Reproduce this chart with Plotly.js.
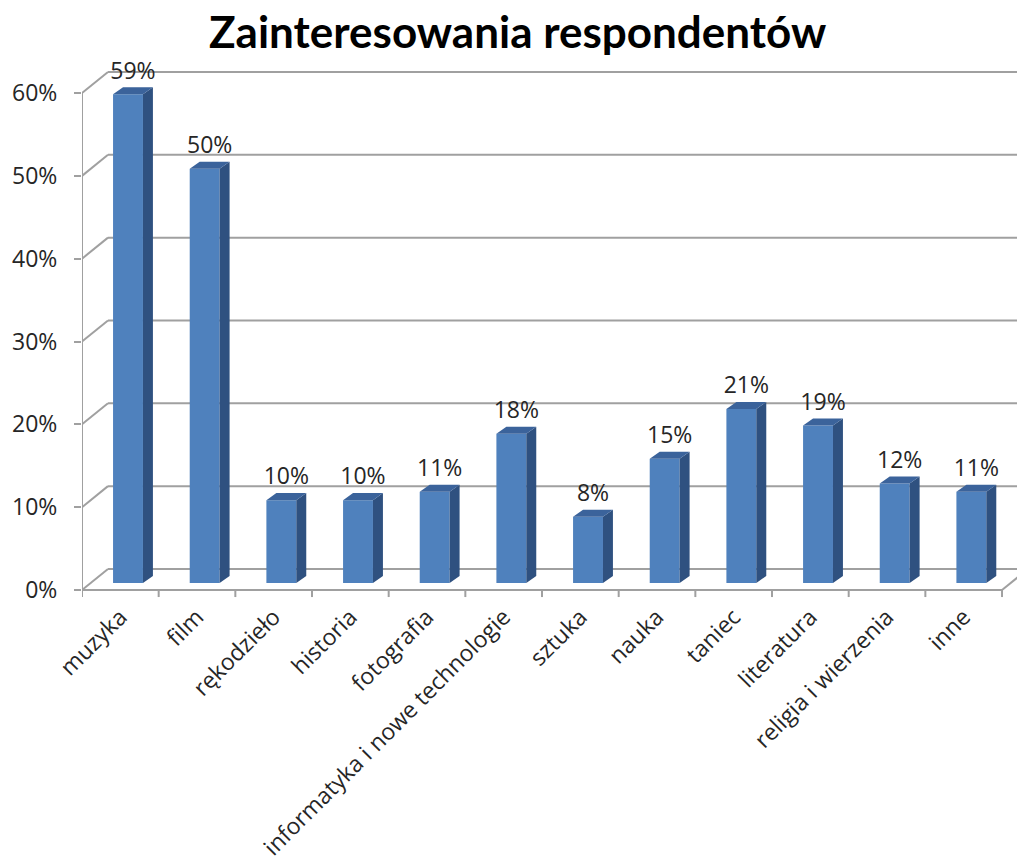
<!DOCTYPE html>
<html><head><meta charset="utf-8">
<script src="https://cdn.plot.ly/plotly-3.0.1.min.js"></script>
<style>html,body{margin:0;padding:0;background:#fff}</style>
</head><body>
<div id="chart" style="width:1017px;height:865px"></div>
<script>
// ---- data ----
const categories = ["muzyka","film","rękodzieło","historia","fotografia","informatyka i nowe technologie","sztuka","nauka","taniec","literatura","religia i wierzenia","inne"];
const values = [0.59,0.50,0.10,0.10,0.11,0.18,0.08,0.15,0.21,0.19,0.12,0.11];
const yTicks = [0,0.1,0.2,0.3,0.4,0.5,0.6];

// ---- geometry (styles / pseudo-3D offsets in axis units) ----
const wallDX = 0.339, wallDY = 0.0254;   // depth of floor / back wall
const barShift = 0.1, barBase = 0.0085;  // bar plane position
const barW = 0.39, barDX = 0.13, barDY = 0.0085; // bar width & depth
const idx = categories.map((_, i) => i);
const GRID = "#a0a0a0";

// front faces via bar trace
const frontFaces = {
  type: "bar", x: idx.map(i => i + barShift), y: values, base: barBase,
  width: barW, marker: {color: "#4f81bd", line: {width: 0}},
  hoverinfo: "skip", showlegend: false
};
// side faces
const sx = [], sy = [];
values.forEach((v, i) => {
  const r = i + barShift + barW / 2;
  sx.push(r, r + barDX, r + barDX, r, r, null);
  sy.push(barBase, barBase + barDY, barBase + v + barDY, barBase + v, barBase, null);
});
const sideFaces = {type: "scatter", mode: "lines", x: sx, y: sy, fill: "toself",
  fillcolor: "#2f5180", line: {width: 0, color: "#2f5180"}, hoverinfo: "skip", showlegend: false};
// top faces
const tx = [], ty = [];
values.forEach((v, i) => {
  const l = i + barShift - barW / 2, r = l + barW, t = barBase + v;
  tx.push(l, r, r + barDX, l + barDX, l, null);
  ty.push(t, t, t + barDY, t + barDY, t, null);
});
const topFaces = {type: "scatter", mode: "lines", x: tx, y: ty, fill: "toself",
  fillcolor: "#3b639b", line: {width: 0, color: "#3b639b"}, hoverinfo: "skip", showlegend: false};
// data labels
const dataLabels = {type: "scatter", mode: "text",
  x: idx.map(i => i + barShift + barDX / 2),
  y: values.map(v => v + barBase + barDY + 0.0035),
  text: values.map(v => Math.round(v * 100) + "%"),
  textposition: "top center", cliponaxis: false,
  textfont: {family: "Open Sans", size: 23, color: "#262626"},
  hoverinfo: "skip", showlegend: false};

// walls / floor as shapes below traces
const shapes = [];
const addLine = (x0, y0, x1, y1) => shapes.push({type: "line", xref: "x", yref: "y", layer: "below",
  x0, y0, x1, y1, line: {color: GRID, width: 2}});
yTicks.forEach(v => {
  addLine(-0.5, v, -0.5 + wallDX, v + wallDY);
  addLine(-0.5 + wallDX, v + wallDY, 13, v + wallDY);
});
addLine(-0.5, 0, -0.5, yTicks[yTicks.length - 1]);
addLine(-0.5, 0, categories.length - 0.5, 0);
addLine(categories.length - 0.5, 0, categories.length - 0.5 + wallDX, wallDY);
for (let b = 0; b <= categories.length; b++) addLine(b - 0.5, 0, b - 0.5, -0.0085);

const layout = {
  width: 1017, height: 865,
  margin: {l: 82, r: 0, t: 60, b: 267},
  paper_bgcolor: "#fff", plot_bgcolor: "#fff",
  showlegend: false,
  title: {text: "<b>Zainteresowania respondentów</b>", xref: "container", yref: "container",
    x: 0.509, y: 0.962, xanchor: "center", yanchor: "middle",
    font: {family: "Lato", size: 44, color: "#000"}},
  xaxis: {range: [-0.5, 11.6953], tickvals: idx, ticktext: categories, tickangle: -45,
    showgrid: false, zeroline: false, showline: false, ticks: "",
    tickfont: {family: "Open Sans", size: 23, color: "#262626"}, fixedrange: true},
  yaxis: {range: [-0.009658, 0.63987], tickvals: yTicks, tickformat: ".0%",
    showgrid: false, zeroline: false, showline: false,
    ticks: "outside", ticklen: 7, tickwidth: 2, tickcolor: GRID, ticklabelstandoff: 12,
    tickfont: {family: "Open Sans", size: 23, color: "#262626"}, fixedrange: true},
  shapes: shapes
};
Plotly.newPlot("chart", [frontFaces, sideFaces, topFaces, dataLabels], layout, {displayModeBar: false, staticPlot: true});
</script>
</body></html>
